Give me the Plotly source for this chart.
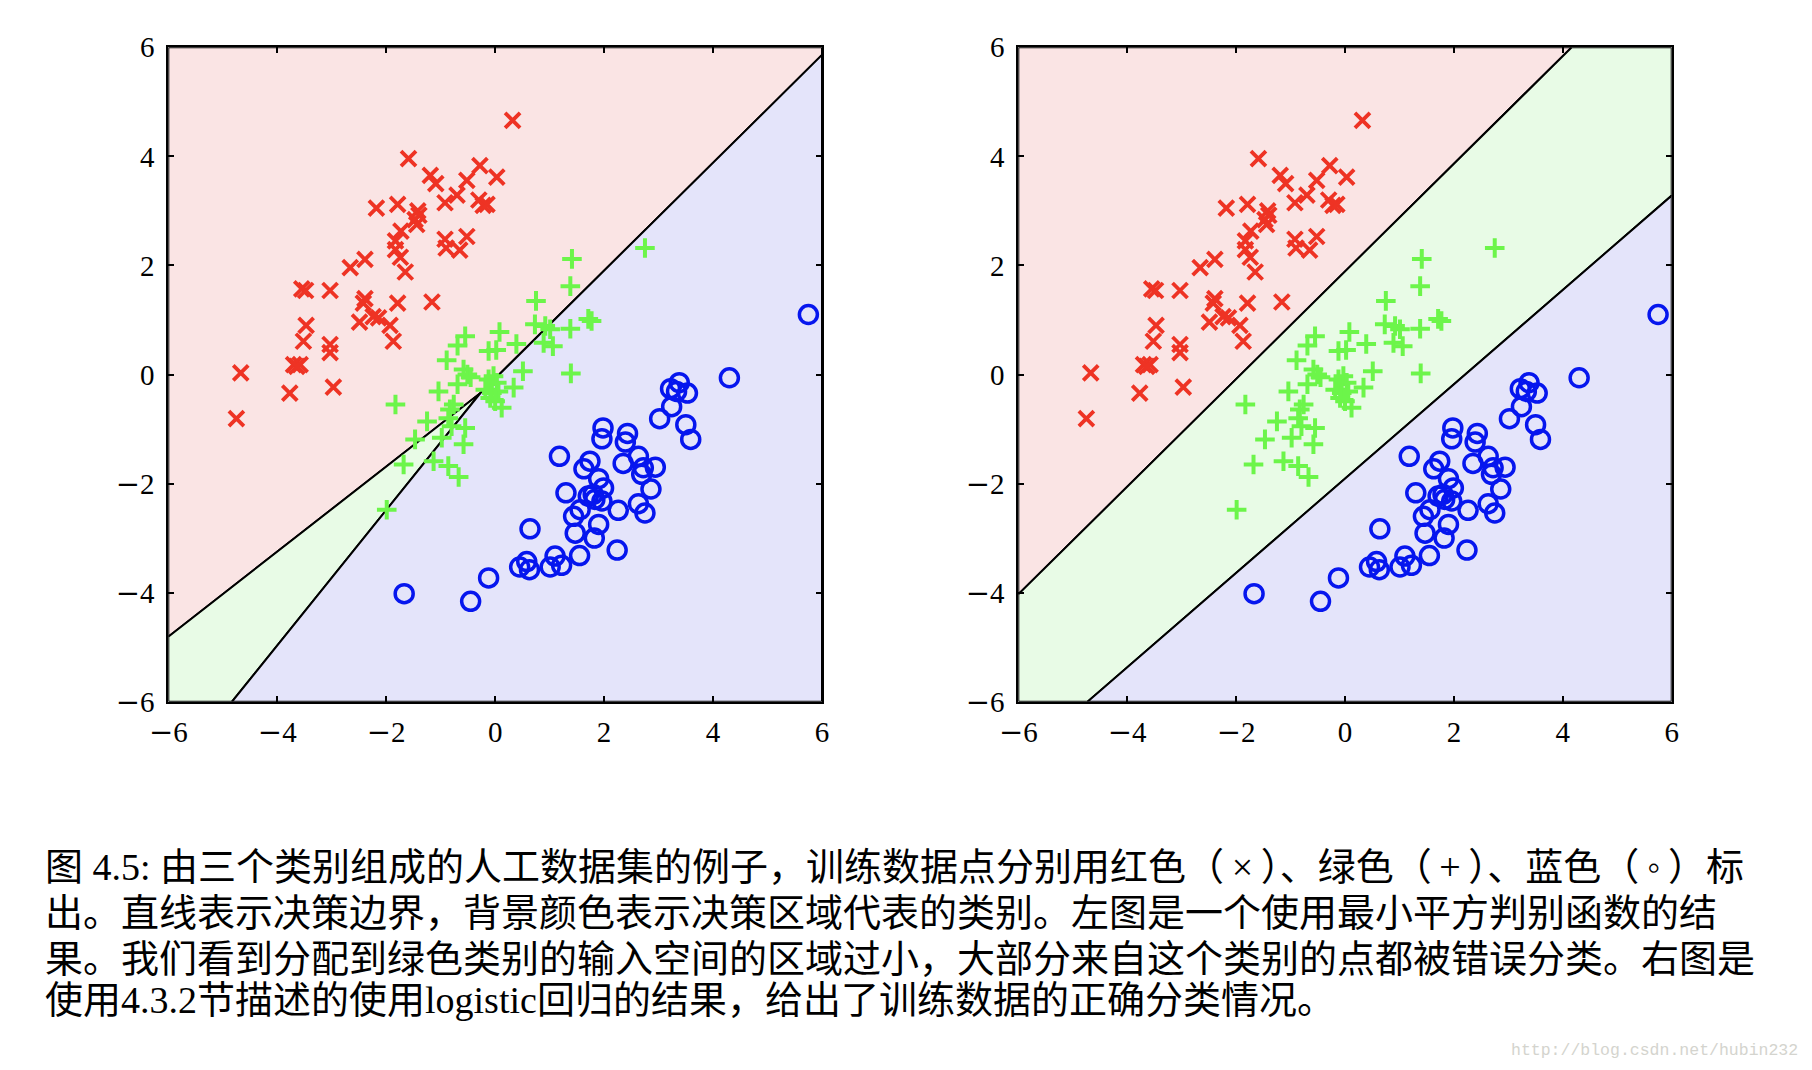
import plotly.graph_objects as go

# ---------------- data ----------------
red_x = [-1.59, -1.19, -1.09, -0.52, -0.28, 0.03, -0.70, -0.92, -0.30, -0.22, -0.15,
         -2.18, -1.79, -1.42, -1.47, -1.44, -1.40, -1.73, -1.83, -1.83, -1.74, -1.65,
         -2.39, -2.66, -0.92, -0.90, -0.65, -0.52, -3.55, -3.48, -3.03, -2.39, -2.42,
         -1.79, -1.16, -2.49, -2.24, -2.14, -1.93, -1.87, -3.47, -3.52, -3.03, -3.03,
         -3.70, -3.58, -3.64, -4.67, -3.77, -2.97, -4.75, 0.32]
red_y = [3.96, 3.65, 3.50, 3.56, 3.83, 3.62, 3.29, 3.15, 3.20, 3.10, 3.12,
         3.05, 3.12, 3.00, 2.84, 2.75, 2.92, 2.63, 2.45, 2.29, 2.15, 1.88,
         2.11, 1.96, 2.48, 2.32, 2.28, 2.53, 1.57, 1.54, 1.54, 1.39, 1.31,
         1.31, 1.33, 0.96, 1.06, 1.04, 0.90, 0.61, 0.90, 0.61, 0.55, 0.40,
         0.18, 0.18, 0.15, 0.03, -0.34, -0.23, -0.81, 4.66]

green_x = [2.75, 1.41, 1.38, 0.75, 0.73, 0.92, 1.01, 1.38, 1.71, 1.77, 0.89, 1.06,
           0.08, 0.39, -0.12, 0.02, -0.55, -0.69, -0.89, 0.51, 1.39, -0.58, -0.51,
           -0.69, -1.04, -0.12, -0.03, 0.03, -0.18, -0.06, 0.06, -0.09, 0.00, 0.34,
           0.12, -1.83, -0.83, -0.76, -1.25, -0.86, -0.80, -0.55, -1.47, -0.98,
           -0.58, -1.68, -1.13, -0.86, -0.67, -1.99, -0.45]
green_y = [2.32, 2.12, 1.62, 1.35, 0.92, 0.89, 0.83, 0.84, 1.02, 0.98, 0.58, 0.52,
           0.78, 0.56, 0.43, 0.45, 0.70, 0.53, 0.26, 0.06, 0.02, 0.09, 0.00,
           -0.18, -0.31, -0.09, -0.03, -0.15, -0.28, -0.34, -0.31, -0.43, -0.49, -0.24,
           -0.61, -0.55, -0.64, -0.55, -0.86, -0.80, -0.95, -0.98, -1.19, -1.16,
           -1.28, -1.65, -1.59, -1.68, -1.88, -2.48, -0.05]

blue_x = [4.30, 3.38, 3.22, 3.33, 3.53, 3.24, 3.02, 3.50, 3.59, 1.98, 1.96, 2.43,
          2.39, 1.18, 1.74, 1.63, 2.35, 2.63, 2.72, 2.94, 2.69, 1.90, 1.99, 2.86,
          1.30, 1.71, 1.83, 1.96, 1.80, 1.56, 2.26, 2.63, 2.75, 1.44, 1.90, 1.47,
          1.82, 0.64, 2.24, 1.55, 1.10, 1.22, 1.01, 0.45, 0.58, 0.63, -0.12,
          -0.45, -1.67, 5.75]
blue_y = [-0.06, -0.15, -0.26, -0.31, -0.34, -0.59, -0.81, -0.92, -1.19, -0.98, -1.18, -1.08,
          -1.24, -1.50, -1.59, -1.73, -1.63, -1.50, -1.71, -1.70, -1.83, -1.91, -2.08, -2.10,
          -2.17, -2.23, -2.29, -2.32, -2.20, -2.48, -2.49, -2.37, -2.54, -2.60, -2.75, -2.91,
          -3.00, -2.83, -3.22, -3.32, -3.33, -3.50, -3.53, -3.53, -3.43, -3.58, -3.73,
          -4.16, -4.02, 1.10]

# decision boundaries y = slope * x + intercept
left_slopes = [0.780, 1.241, 0.989]        # red/green, green/blue, red/blue
left_intercepts = [-0.129, -0.005, -0.073]
right_slopes = [0.987, 0.865]              # red/green, green/blue
right_intercepts = [1.89, -1.91]

tick_vals = [-6, -4, -2, 0, 2, 4, 6]
MINUS = '<span style="font-family:DejaVu Serif">−</span>'
tick_text = [(MINUS + str(-v)) if v < 0 else str(v) for v in tick_vals]
axis_range = [-6, 6]

caption_lines = [
    "图 4.5: 由三个类别组成的人工数据集的例子，训练数据点分别用红色（\u2009×\u2009）、绿色（\u2009+\u2009）、蓝色（\u2009◦\u2009）标",
    "出。直线表示决策边界，背景颜色表示决策区域代表的类别。左图是一个使用最小平方判别函数的结",
    "果。我们看到分配到绿色类别的输入空间的区域过小，大部分来自这个类别的点都被错误分类。右图是",
    "使用4.3.2节描述的使用logistic回归的结果，给出了训练数据的正确分类情况。",
]
watermark = "http://blog.csdn.net/hubin232"

# ---------------- styles ----------------
RED, GREEN, BLUE = "#ee3324", "#6cf54a", "#0616ee"
REGION_COLORS = ["#fae4e4", "#e8fbe6", "#e4e4fa"]
W, H = 1812, 1070
OFF = 8  # page offset of the figure (body margin)


def clip(poly, m, b, sign):
    """Keep part of polygon where sign*(y - m*x - b) >= 0."""
    f = lambda p: sign * (p[1] - m * p[0] - b)
    out = []
    n = len(poly)
    for i in range(n):
        p, q = poly[i], poly[(i + 1) % n]
        fp, fq = f(p), f(q)
        if fp >= 0:
            out.append(p)
        if (fp >= 0) != (fq >= 0):
            t = fp / (fp - fq)
            out.append((p[0] + t * (q[0] - p[0]), p[1] + t * (q[1] - p[1])))
    return out


def region(slopes, intercepts, constraints):
    lo, hi = axis_range
    poly = [(lo, lo), (hi, lo), (hi, hi), (lo, hi)]
    for k, s in constraints:
        poly = clip(poly, slopes[k], intercepts[k], s)
    return poly


left_regions = [[(0, 1), (2, 1)], [(0, -1), (1, 1)], [(1, -1), (2, -1)]]
right_regions = [[(0, 1)], [(0, -1), (1, 1)], [(1, -1)]]

fig = go.Figure()

for (xa, ya, slopes, intercepts, regs) in [
    ("x", "y", left_slopes, left_intercepts, left_regions),
    ("x2", "y2", right_slopes, right_intercepts, right_regions),
]:
    for color, cons in zip(REGION_COLORS, regs):
        poly = region(slopes, intercepts, cons)
        if not poly:
            continue
        xs = [p[0] for p in poly] + [poly[0][0]]
        ys = [p[1] for p in poly] + [poly[0][1]]
        fig.add_trace(go.Scatter(x=xs, y=ys, mode="lines", fill="toself",
                                 fillcolor=color, line=dict(color="black", width=2),
                                 xaxis=xa, yaxis=ya, hoverinfo="skip", showlegend=False))
    fig.add_trace(go.Scatter(x=red_x, y=red_y, mode="markers", xaxis=xa, yaxis=ya,
                             marker=dict(symbol="x-thin", size=15, color=RED,
                                         line=dict(color=RED, width=3.8)),
                             showlegend=False))
    fig.add_trace(go.Scatter(x=green_x, y=green_y, mode="markers", xaxis=xa, yaxis=ya,
                             marker=dict(symbol="cross-thin", size=14, color=GREEN,
                                         line=dict(color=GREEN, width=4)),
                             showlegend=False))
    fig.add_trace(go.Scatter(x=blue_x, y=blue_y, mode="markers", xaxis=xa, yaxis=ya,
                             marker=dict(symbol="circle-open", size=18, color=BLUE,
                                         line=dict(color=BLUE, width=3.5)),
                             showlegend=False))

axis_common = dict(range=axis_range, tickvals=tick_vals, ticktext=tick_text,
                   ticks="inside", ticklen=6,
                   tickwidth=2, tickcolor="black", showline=True, linewidth=2,
                   linecolor="black", mirror="ticks", showgrid=False, zeroline=False,
                   automargin=False,
                   tickfont=dict(family="Liberation Serif", size=29, color="black"))


def px_x(p):
    return (p - OFF) / W


def px_y(p):
    return 1 - (p - OFF) / H


ydom = [px_y(701.7), px_y(47.3)]
fig.update_layout(
    width=W, height=H,
    margin=dict(l=0, r=0, t=0, b=0, autoexpand=False),
    paper_bgcolor="white", plot_bgcolor="white",
    xaxis=dict(domain=[px_x(168.3), px_x(822.0)], anchor="y", ticklabelstandoff=3, **axis_common),
    yaxis=dict(domain=ydom, anchor="x", ticklabelstandoff=6, **axis_common),
    xaxis2=dict(domain=[px_x(1018.3), px_x(1671.7)], anchor="y2", ticklabelstandoff=3, **axis_common),
    yaxis2=dict(domain=ydom, anchor="x2", ticklabelstandoff=6, **axis_common),
)

line_centers = [867, 913, 959, 1000]
for txt, yc in zip(caption_lines, line_centers):
    fig.add_annotation(text=txt, xref="paper", yref="paper", x=px_x(43), y=px_y(yc),
                       xanchor="left", yanchor="middle", showarrow=False,
                       font=dict(family="Liberation Serif, Noto Sans CJK SC", size=38,
                                 color="black"))

fig.add_annotation(text=watermark, xref="paper", yref="paper", x=px_x(1800), y=px_y(1050),
                   xanchor="right", yanchor="middle", showarrow=False,
                   font=dict(family="Liberation Mono", size=16.5, color="#d4d4ce"))

fig.write_html("out.html")
